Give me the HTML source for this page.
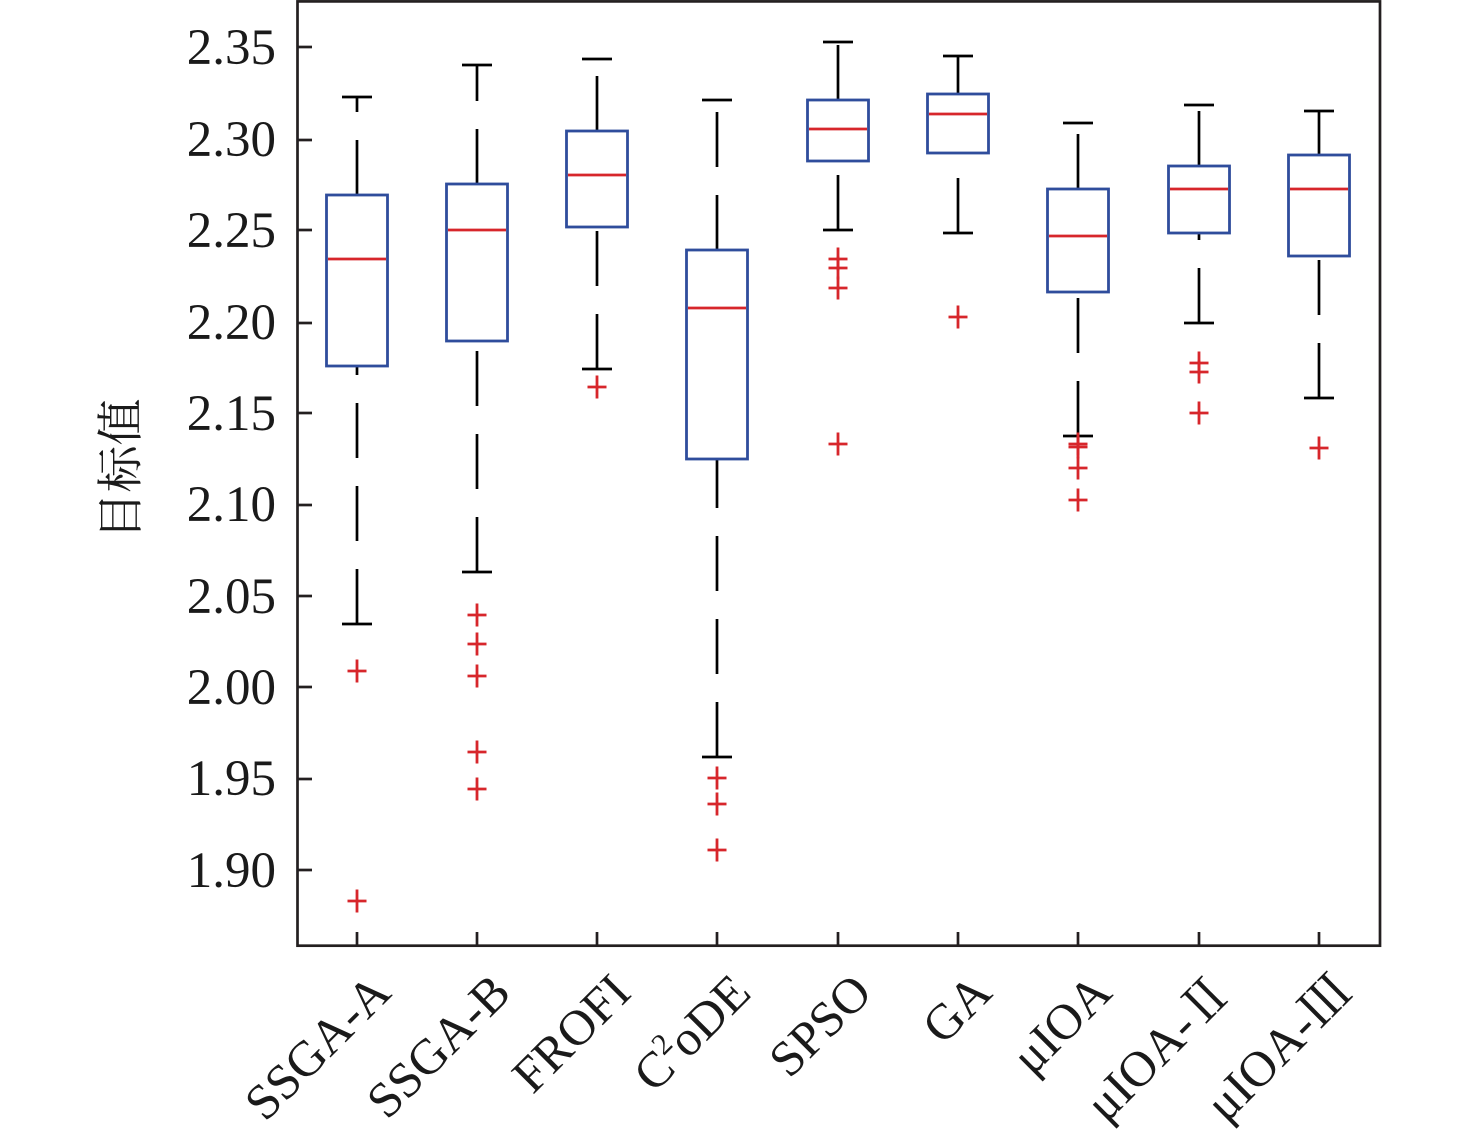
<!DOCTYPE html>
<html>
<head>
<meta charset="utf-8">
<style>
  html,body{margin:0;padding:0;background:#fff;}
  svg{display:block;}
  text{font-family:"Liberation Serif","Noto Serif CJK SC",serif;fill:#1a1a1a;}
</style>
</head>
<body>
<svg width="1476" height="1140" viewBox="0 0 1476 1140" xmlns="http://www.w3.org/2000/svg">
  <rect x="0" y="0" width="1476" height="1140" fill="#fff"/>

  <!-- Y tick labels -->
  <g font-size="51" text-anchor="end">
    <text x="276" y="64">2.35</text>
    <text x="276" y="156">2.30</text>
    <text x="276" y="247">2.25</text>
    <text x="276" y="339">2.20</text>
    <text x="276" y="430">2.15</text>
    <text x="276" y="521">2.10</text>
    <text x="276" y="613">2.05</text>
    <text x="276" y="704">2.00</text>
    <text x="276" y="795">1.95</text>
    <text x="276" y="887">1.90</text>
  </g>

  <!-- Y axis label -->
  <text transform="translate(137,469) rotate(-90)" text-anchor="middle" font-size="47" style="font-family:'Noto Serif CJK SC','Noto Sans CJK SC',serif">目标值</text>

  <!-- X labels -->
  <g font-size="50" text-anchor="end">
    <text transform="translate(393,995) rotate(-45)">SSGA-A</text>
    <text transform="translate(513,995) rotate(-45)">SSGA-B</text>
    <text transform="translate(633,995) rotate(-45)">FROFI</text>
    <text transform="translate(753,995) rotate(-45)">C<tspan font-size="30" dy="-20">2</tspan><tspan dy="20">oDE</tspan></text>
    <text transform="translate(874,995) rotate(-45)">SPSO</text>
    <text transform="translate(994,995) rotate(-45)">GA</text>
    <text transform="translate(1114,995) rotate(-45)">μIOA</text>
    <text transform="translate(1235,995) rotate(-45)">μIOA-<tspan style="font-family:'Noto Serif CJK SC',serif">Ⅱ</tspan></text>
    <text transform="translate(1355,995) rotate(-45)">μIOA-<tspan style="font-family:'Noto Serif CJK SC',serif">Ⅲ</tspan></text>
  </g>

  <!-- Whiskers (dashed, pattern starting from bottom end) -->
  <g stroke="#000" stroke-width="2.7" fill="none" stroke-dasharray="55 28">
    <!-- SSGA-A -->
    <line x1="357" y1="195" x2="357" y2="97"/>
    <line x1="357" y1="624" x2="357" y2="366"/>
    <!-- SSGA-B -->
    <line x1="477" y1="184" x2="477" y2="65"/>
    <line x1="477" y1="572" x2="477" y2="341"/>
    <!-- FROFI -->
    <line x1="597" y1="131" x2="597" y2="59"/>
    <line x1="597" y1="369" x2="597" y2="227"/>
    <!-- C2oDE -->
    <line x1="717" y1="250" x2="717" y2="100"/>
    <line x1="717" y1="757" x2="717" y2="459"/>
    <!-- SPSO -->
    <line x1="838" y1="100" x2="838" y2="42"/>
    <line x1="838" y1="230" x2="838" y2="161"/>
    <!-- GA -->
    <line x1="958" y1="94" x2="958" y2="56"/>
    <line x1="958" y1="233" x2="958" y2="153"/>
    <!-- muIOA -->
    <line x1="1078" y1="189" x2="1078" y2="123"/>
    <line x1="1078" y1="436" x2="1078" y2="292"/>
    <!-- muIOA-II -->
    <line x1="1199" y1="166" x2="1199" y2="105"/>
    <line x1="1199" y1="323" x2="1199" y2="233"/>
    <!-- muIOA-III -->
    <line x1="1319" y1="155" x2="1319" y2="111"/>
    <line x1="1319" y1="398" x2="1319" y2="256"/>
  </g>

  <!-- Caps -->
  <g stroke="#000" stroke-width="2.7">
    <line x1="342" y1="97" x2="372" y2="97"/><line x1="342" y1="624" x2="372" y2="624"/>
    <line x1="462" y1="65" x2="492" y2="65"/><line x1="462" y1="572" x2="492" y2="572"/>
    <line x1="582" y1="59" x2="612" y2="59"/><line x1="582" y1="369" x2="612" y2="369"/>
    <line x1="702" y1="100" x2="732" y2="100"/><line x1="702" y1="757" x2="732" y2="757"/>
    <line x1="823" y1="42" x2="853" y2="42"/><line x1="823" y1="230" x2="853" y2="230"/>
    <line x1="943" y1="56" x2="973" y2="56"/><line x1="943" y1="233" x2="973" y2="233"/>
    <line x1="1063" y1="123" x2="1093" y2="123"/><line x1="1063" y1="436" x2="1093" y2="436"/>
    <line x1="1184" y1="105" x2="1214" y2="105"/><line x1="1184" y1="323" x2="1214" y2="323"/>
    <line x1="1304" y1="111" x2="1334" y2="111"/><line x1="1304" y1="398" x2="1334" y2="398"/>
  </g>

  <!-- Boxes -->
  <g stroke="#2f4d9c" stroke-width="2.8" fill="#fff">
    <rect x="326.5" y="195" width="61" height="171"/>
    <rect x="446.5" y="184" width="61" height="157"/>
    <rect x="566.5" y="131" width="61" height="96"/>
    <rect x="686.5" y="250" width="61" height="209"/>
    <rect x="807.5" y="100" width="61" height="61"/>
    <rect x="927.5" y="94" width="61" height="59"/>
    <rect x="1047.5" y="189" width="61" height="103"/>
    <rect x="1168.5" y="166" width="61" height="67"/>
    <rect x="1288.5" y="155" width="61" height="101"/>
  </g>

  <!-- Medians -->
  <g stroke="#d7262b" stroke-width="2.8">
    <line x1="328" y1="259" x2="386" y2="259"/>
    <line x1="448" y1="230" x2="506" y2="230"/>
    <line x1="568" y1="175" x2="626" y2="175"/>
    <line x1="688" y1="308" x2="746" y2="308"/>
    <line x1="809" y1="129" x2="867" y2="129"/>
    <line x1="929" y1="114" x2="987" y2="114"/>
    <line x1="1049" y1="236" x2="1107" y2="236"/>
    <line x1="1170" y1="189" x2="1228" y2="189"/>
    <line x1="1290" y1="189" x2="1348" y2="189"/>
  </g>

  <!-- Outliers -->
  <defs>
    <g id="p"><line x1="-9.5" y1="0" x2="9.5" y2="0"/><line x1="0" y1="-11.5" x2="0" y2="11.5"/></g>
  </defs>
  <g stroke="#d7262b" stroke-width="2.8">
    <use href="#p" x="357" y="671"/><use href="#p" x="357" y="901"/>
    <use href="#p" x="477" y="615"/><use href="#p" x="477" y="644"/><use href="#p" x="477" y="676"/><use href="#p" x="477" y="752"/><use href="#p" x="477" y="789"/>
    <use href="#p" x="597" y="387"/>
    <use href="#p" x="717" y="778"/><use href="#p" x="717" y="804"/><use href="#p" x="717" y="850"/>
    <use href="#p" x="838" y="259"/><use href="#p" x="838" y="268"/><use href="#p" x="838" y="288"/><use href="#p" x="838" y="444"/>
    <use href="#p" x="958" y="317"/>
    <use href="#p" x="1078" y="444"/><use href="#p" x="1078" y="447"/><use href="#p" x="1078" y="468"/><use href="#p" x="1078" y="500"/>
    <use href="#p" x="1199" y="363"/><use href="#p" x="1199" y="372"/><use href="#p" x="1199" y="413"/>
    <use href="#p" x="1319" y="448"/>
  </g>

  <!-- Axes frame and ticks -->
  <g stroke="#231f20" stroke-width="2.7" fill="none">
    <rect x="297.5" y="1.4" width="1082.5" height="944.3"/>
    <line x1="297" y1="47" x2="312" y2="47"/>
    <line x1="297" y1="140" x2="312" y2="140"/>
    <line x1="297" y1="230" x2="312" y2="230"/>
    <line x1="297" y1="323" x2="312" y2="323"/>
    <line x1="297" y1="413" x2="312" y2="413"/>
    <line x1="297" y1="505" x2="312" y2="505"/>
    <line x1="297" y1="596" x2="312" y2="596"/>
    <line x1="297" y1="687" x2="312" y2="687"/>
    <line x1="297" y1="779" x2="312" y2="779"/>
    <line x1="297" y1="870" x2="312" y2="870"/>
    <line x1="357" y1="945" x2="357" y2="932"/>
    <line x1="477" y1="945" x2="477" y2="932"/>
    <line x1="597" y1="945" x2="597" y2="932"/>
    <line x1="717" y1="945" x2="717" y2="932"/>
    <line x1="838" y1="945" x2="838" y2="932"/>
    <line x1="958" y1="945" x2="958" y2="932"/>
    <line x1="1078" y1="945" x2="1078" y2="932"/>
    <line x1="1199" y1="945" x2="1199" y2="932"/>
    <line x1="1319" y1="945" x2="1319" y2="932"/>
  </g>
</svg>
</body>
</html>
